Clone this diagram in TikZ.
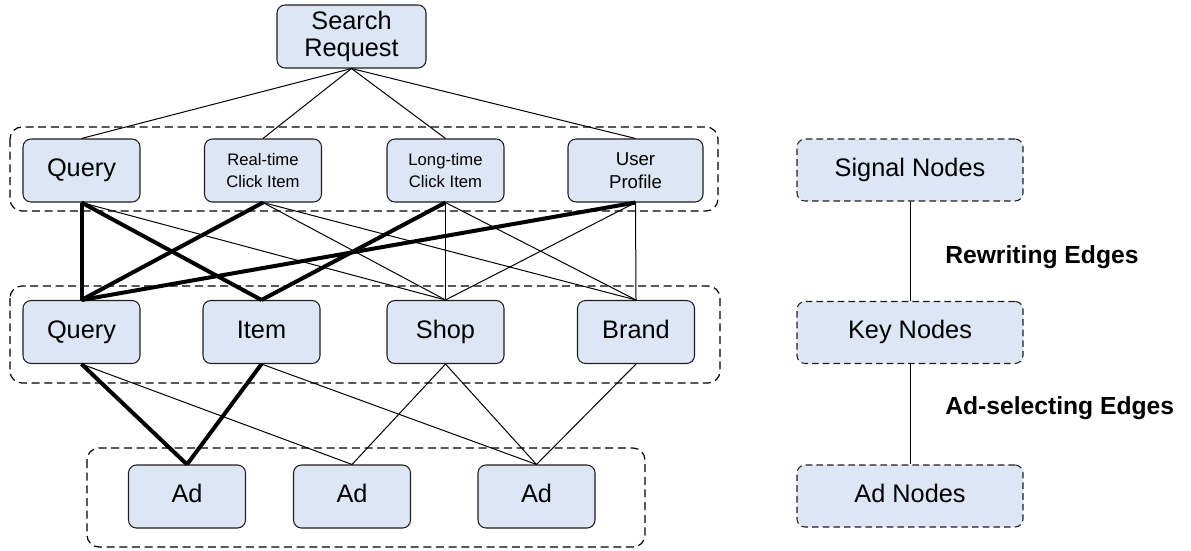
\documentclass[tikz,border=0pt]{standalone}
\usepackage{fontspec}
\setmainfont{Liberation Sans}
\usepackage{tikz}

\definecolor{nodeblue}{RGB}{221,230,244}
\definecolor{edgegray}{RGB}{30,30,30}

\tikzset{
	gnode/.style={draw=edgegray, fill=nodeblue, rounded corners=6pt, line width=0.8pt, inner sep=0.75pt, align=center, minimum width=87.75pt, minimum height=47.25pt, font=\fontsize{19}{20}\selectfont},
	oneline/.style={gnode, text height=13.6pt, text depth=4pt},
	smalltext/.style={font=\fontsize{12.5}{16}\selectfont},
	legendnode/.style={oneline, dashed, dash pattern=on 5pt off 3pt, minimum width=169.5pt, minimum height=46.5pt},
	group/.style={draw=black, dash pattern=on 6pt off 3.5pt, rounded corners=9pt, line width=0.9pt},
	thinedge/.style={draw=black, line width=0.75pt},
	thickedge/.style={draw=black, line width=3pt},
	edgelabel/.style={anchor=west, inner sep=0.75pt, font=\fontsize{18.5}{20}\selectfont\bfseries}
}

\begin{document}
\begin{tikzpicture}[x=0.75pt,y=0.75pt,yscale=-1,xscale=1]
	\useasboundingbox (0,0) rectangle (1191,550);
	
	%Shape: Dashed groups
	\draw [group] (10,127) rectangle (718,211) ;
	\draw [group] (10,286) rectangle (720,383) ;
	\draw [group] (87,448) rectangle (645,547) ;
	
	% Search request
	\node [gnode, minimum width=111.75pt] (req) at (351.5,36.5) {Search\\Request};
	
	% Signal nodes
	\node [oneline] (sq) at (81.5,170.5) {Query};
	\node [gnode, smalltext] (srt) at (263,170.5) {Real-time\\Click Item};
	\node [gnode, smalltext] (slt) at (445.5,170.5) {Long-time\\Click Item};
	\node [gnode, minimum width=101.25pt, font=\fontsize{14}{17}\selectfont] (sup) at (635.5,170.5) {User\\Profile};
	
	% Key nodes
	\node [oneline] (kq) at (81.5,332) {Query};
	\node [oneline] (ki) at (261.5,332) {Item};
	\node [oneline] (ks) at (445.5,332) {Shop};
	\node [oneline] (kb) at (636,332) {Brand};
	
	% Ad nodes
	\node [oneline] (ad1) at (187,496.5) {Ad};
	\node [oneline] (ad2) at (352,496.5) {Ad};
	\node [oneline] (ad3) at (536.5,496.5) {Ad};
	
	%Straight Lines: request to signals
	\foreach \s in {sq,srt,slt,sup}
	\draw [thinedge] (req.south) -- (\s.north) ;
	
	%Straight Lines: rewriting edges
	\draw [thinedge] (sq.south) -- (ks.north) ;
	\draw [thinedge] (srt.south) -- (ks.north) ;
	\draw [thinedge] (srt.south) -- (kb.north) ;
	\draw [thinedge] (slt.south) -- (ks.north) ;
	\draw [thinedge] (slt.south) -- (kb.north) ;
	\draw [thinedge] (sup.south) -- (ks.north) ;
	\draw [thinedge] (sup.south) -- (kb.north) ;
	\draw [thickedge] (sq.south) -- (kq.north) ;
	\draw [thickedge] (sq.south) -- (ki.north) ;
	\draw [thickedge] (srt.south) -- (kq.north) ;
	\draw [thickedge] (slt.south) -- (ki.north) ;
	\draw [thickedge] (sup.south) -- (kq.north) ;
	
	%Straight Lines: ad-selecting edges
	\draw [thinedge] (kq.south) -- (ad2.north) ;
	\draw [thinedge] (ki.south) -- (ad3.north) ;
	\draw [thinedge] (ks.south) -- (ad2.north) ;
	\draw [thinedge] (ks.south) -- (ad3.north) ;
	\draw [thinedge] (kb.south) -- (ad3.north) ;
	\draw [thickedge] (kq.south) -- (ad1.north) ;
	\draw [thickedge] (ki.south) -- (ad1.north) ;
	
	% Legend
	\node [legendnode] (lsig) at (910,170) {Signal Nodes};
	\node [legendnode] (lkey) at (910,332.5) {Key Nodes};
	\node [legendnode] (lad) at (910,496) {Ad Nodes};
	\draw [thinedge] (lsig) -- (lkey) ;
	\draw [thinedge] (lkey) -- (lad) ;
	
	% Text Node
	\node [edgelabel] (lrw) at (944,257) {Rewriting Edges};
	% Text Node
	\node [edgelabel] (las) at (944,408) {Ad-selecting Edges};
	
\end{tikzpicture}
\end{document}
